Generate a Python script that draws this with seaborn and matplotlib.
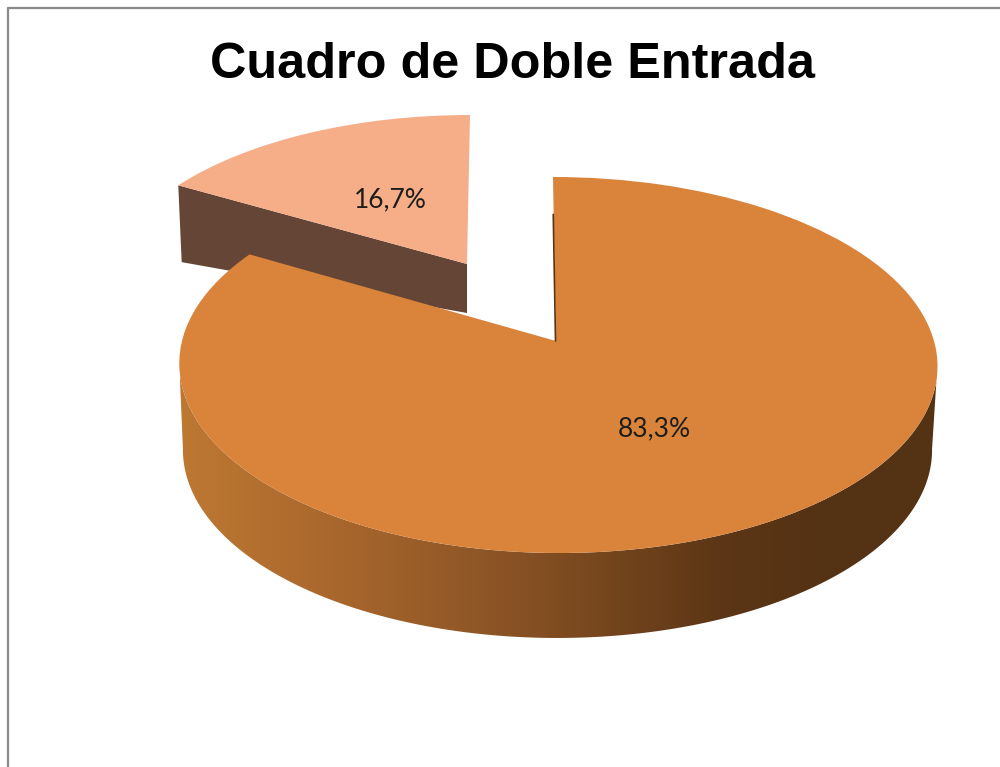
import numpy as np
import matplotlib
matplotlib.use('Agg')
import matplotlib.pyplot as plt
from matplotlib.colors import LinearSegmentedColormap
from matplotlib.patches import Polygon
import seaborn as sns

title = 'Cuadro de Doble Entrada'
values = [83.3, 16.7]
slice_colors = ['#d9833b', '#f5ae88']
wall_color = '#654636'
rim_colors = ['#bd7832', '#b06c2e', '#9e602a', '#8a5325', '#74451d', '#5c3616', '#543214', '#543214']

sns.set_theme(style='white')
plt.rcParams['font.family'] = ['Liberation Sans', 'DejaVu Sans']

# perspective of the 3D look: unit pie -> pixels (pl/pr = left and right half width)
c = 0.1277
top_main = dict(pl=374, pr=378, a=-141.4, b=341, x0=556, tilt=-3)
low_main = dict(pl=371, pr=372, a=-130.5, b=426, x0=557, tilt=0)
top_small = dict(pl=356, pr=356, a=-134.3, b=264, x0=467, tilt=3)
low_small = dict(pl=350, pr=350, a=-68.6, b=313, x0=467, tilt=0)


def warp(xy, pl, pr, a, b, x0, tilt):
    xy = np.asarray(xy, dtype=float)
    x, y = xy[..., 0], xy[..., 1]
    w = 1 + c * y
    p = np.where(x < 0, pl, pr)
    return np.stack([x0 + tilt * y + p * x / w, (a * y + b) / w], axis=-1)


fig = plt.figure(figsize=(10, 7.67), dpi=100)
ax = fig.add_axes([0, 0, 1, 1])

wedges, texts, autotexts = ax.pie(
    values,
    colors=sns.color_palette(slice_colors),
    startangle=90,
    counterclock=False,
    radius=1,
    pctdistance=0.49,
    autopct=lambda v: f'{v:.1f}%'.replace('.', ','),
    wedgeprops={'linewidth': 0},
)

for w, t, params, nudge in zip(wedges, autotexts, [top_main, top_small], [(-1, 5), (5, 3)]):
    path = w.get_path()
    path.vertices = warp(path.vertices, **params)
    w.set_zorder(5)
    px, py = warp(t.get_position(), **params)
    t.set_position((px + nudge[0], py + nudge[1]))
    t.set_family(['Lato', 'DejaVu Sans'])
    t.set_fontsize(19)
    t.set_color('#1d1d1b')
    t.set_zorder(6)

# side of the big slice, straight edges join the widest points of both ellipses
t = np.radians(np.linspace(187, 353, 200))
circle = np.column_stack([np.cos(t), np.sin(t)])
rim = np.vstack([warp(circle, **top_main), warp(circle, **low_main)[::-1]])
clip = Polygon(rim, closed=True, transform=ax.transData, fc='none', ec='none')
ax.add_patch(clip)
cmap = LinearSegmentedColormap.from_list('rim', rim_colors)
img = ax.imshow(np.linspace(0, 1, 256)[None, :], cmap=cmap, aspect='auto',
                extent=[180, 937, 660, 340], zorder=3)
img.set_clip_path(clip)

# cut face of the small slice
ang = np.radians(90 + 360 * values[1] / sum(values))
edge = [[np.cos(ang), np.sin(ang)], [0, 0]]
wall = np.vstack([warp(edge, **top_small), warp(edge, **low_small)[::-1]])
ax.fill(wall[:, 0], wall[:, 1], color=wall_color, lw=0, zorder=2)

# thin inner edge of the notch
notch = warp([[0, 0.75], [0, 0]], **top_main)
ax.plot(notch[:, 0] - 0.5, notch[:, 1], color='#5a3513', lw=1.2, zorder=6)

# chart border
ax.plot([8, 8], [767, 8], color='#8a8a8a', lw=1.6, zorder=1)
ax.plot([8, 1000], [8, 8], color='#8a8a8a', lw=1.6, zorder=1)

ax.text(512.5, 65, title, ha='center', va='center', fontsize=36.3, fontweight='bold', color='black')

ax.set_aspect('auto')
ax.set_xlim(0, 1000)
ax.set_ylim(767, 0)
ax.axis('off')

plt.savefig('out.png', dpi=100)
plt.close()
